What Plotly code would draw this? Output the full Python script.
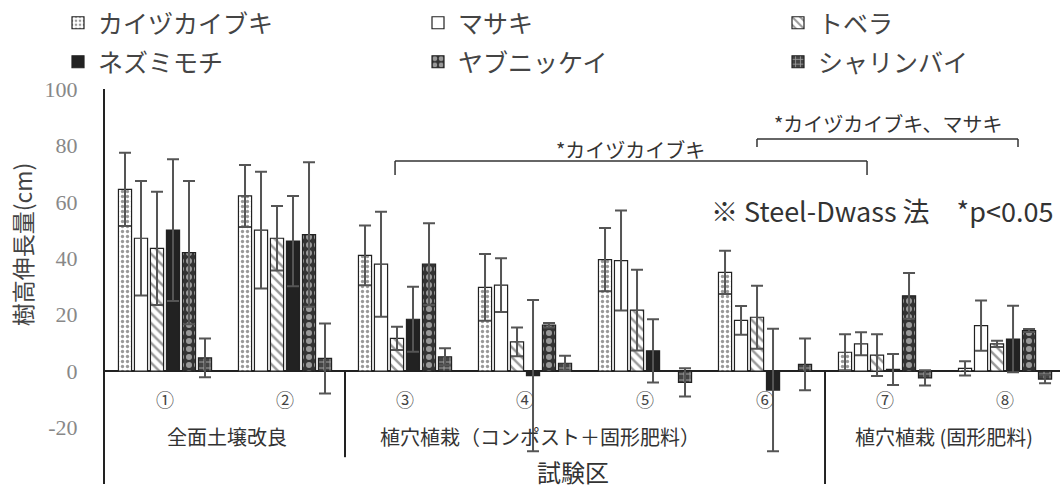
import plotly.graph_objects as go

# ---- data ----
categories = ["①", "②", "③", "④", "⑤", "⑥", "⑦", "⑧"]
series_names = ["カイヅカイブキ", "マサキ", "トベラ", "ネズミモチ", "ヤブニッケイ", "シャリンバイ"]

kaizuka = [64.4, 62.1, 41.0, 29.7, 39.5, 35.0, 6.7, 1.0]
kaizuka_err = [13.0, 11.0, 10.6, 11.8, 11.2, 7.7, 6.4, 2.5]
masaki = [47.1, 50.0, 37.9, 30.5, 39.2, 18.0, 9.7, 16.1]
masaki_err = [20.3, 20.7, 18.6, 9.5, 17.7, 5.1, 4.1, 8.9]
tobera = [43.5, 47.1, 11.6, 10.4, 21.6, 19.1, 5.7, 9.7]
tobera_err = [20.1, 11.4, 4.1, 5.1, 14.3, 11.2, 7.4, 1.1]
nezumimochi = [50.0, 46.1, 18.4, -1.6, 7.2, -6.7, 0.6, 11.4]
nezumimochi_err = [25.1, 16.0, 11.5, 26.8, 11.2, 21.7, 5.5, 11.8]
yabunikkei = [42.0, 48.4, 37.9, 16.3, None, None, 26.7, 14.4]
yabunikkei_err = [25.4, 25.6, 14.5, 0.8, 0, 0, 8.1, 0.5]
sharinbai = [4.7, 4.5, 5.1, 2.8, -4.0, 2.4, -2.4, -2.8]
sharinbai_err = [6.9, 12.4, 3.0, 2.7, 5.0, 9.2, 2.7, 1.5]

y_ticks = [-40, -20, 0, 20, 40, 60, 80, 100]
y_tick_labels = ["-40", "-20", "0", "20", "40", "60", "80", "100"]
group_labels = ["全面土壌改良", "植穴植栽（コンポスト＋固形肥料）", "植穴植栽 (固形肥料)"]

JP = "Noto Sans CJK JP"

values = [kaizuka, masaki, tobera, nezumimochi, yabunikkei, sharinbai]
errors = [kaizuka_err, masaki_err, tobera_err, nezumimochi_err, yabunikkei_err, sharinbai_err]
styles = [
    dict(color="white", pattern=dict(shape=".", fgcolor="#333", size=5, solidity=0.35, fillmode="overlay")),
    dict(color="white"),
    dict(color="white", pattern=dict(shape="\\", fgcolor="#333", size=7, solidity=0.35, fillmode="overlay")),
    dict(color="#222"),
    dict(color="#333", pattern=dict(shape=".", fgcolor="white", size=8, solidity=0.45, fillmode="overlay")),
    dict(color="#444", pattern=dict(shape="+", fgcolor="white", size=6, solidity=0.3, fillmode="overlay")),
]
legend_ids = ["legend", "legend", "legend", "legend2", "legend2", "legend2"]
legend_widths = [315, 315, 200, 315, 315, 200]

fig = go.Figure()
for name, vals, errs, st, lid, lw in zip(series_names, values, errors, styles, legend_ids, legend_widths):
    marker = dict(color=st["color"], line=dict(color="#222", width=1.2))
    if "pattern" in st:
        marker["pattern"] = st["pattern"]
    fig.add_trace(go.Bar(
        x=categories, y=vals, name=name, marker=marker,
        error_y=dict(type="data", array=errs, visible=True, color="#555", thickness=2, width=6),
        legend=lid, legendwidth=lw,
    ))

PT, PB = 89, 484
PH = PB - PT

def leg_y(py):
    return 1 + (PT - py) / PH

legend_common = dict(
    orientation="h", xanchor="left", yanchor="middle",
    x=(58 - 105) / 955,
    font=dict(family=JP, size=25, color="#444"),
    bgcolor="rgba(0,0,0,0)", itemwidth=30,
)
fig.update_layout(
    width=1060, height=490,
    margin=dict(l=105, r=0, t=PT, b=490 - PB, autoexpand=False),
    paper_bgcolor="white", plot_bgcolor="white",
    barmode="group", bargap=0.2, bargroupgap=0.18,
    showlegend=True,
    legend=dict(legend_common, y=leg_y(23)),
    legend2=dict(legend_common, y=leg_y(62)),
    xaxis=dict(range=[-0.5, 7.458], showticklabels=False, showgrid=False,
               zeroline=False, showline=False, ticks=""),
    yaxis=dict(range=[-40, 100], tickvals=y_ticks, ticktext=y_tick_labels, showgrid=False,
               showline=True, linecolor="#222", linewidth=2,
               zeroline=True, zerolinecolor="#222", zerolinewidth=2,
               ticks="outside", ticklen=21, tickcolor="rgba(0,0,0,0)",
               tickfont=dict(family="Liberation Serif", size=22, color="#888"),
               automargin=False),
)

shapes = []
# separators between treatment groups
shapes.append(dict(type="line", xref="x", yref="y", x0=1.5, x1=1.5, y0=0, y1=-30.5,
                   line=dict(color="#222", width=2)))
shapes.append(dict(type="line", xref="x", yref="y", x0=5.5, x1=5.5, y0=0, y1=-40,
                   line=dict(color="#222", width=2)))
# significance brackets
def bracket(xa, xb, yh, ye):
    ln = dict(color="#333", width=1.5)
    return [
        dict(type="line", xref="x", yref="y", x0=xa, x1=xb, y0=yh, y1=yh, line=ln),
        dict(type="line", xref="x", yref="y", x0=xa, x1=xa, y0=yh, y1=ye, line=ln),
        dict(type="line", xref="x", yref="y", x0=xb, x1=xb, y0=yh, y1=ye, line=ln),
    ]
shapes += bracket(1.917, 5.85, 74.5, 69.5)
shapes += bracket(4.933, 7.108, 82.3, 79.4)
fig.update_layout(shapes=shapes)

ann = []
for c in categories:
    ann.append(dict(x=c, y=-9.8, xref="x", yref="y", text=c, showarrow=False,
                    font=dict(family=JP, size=18, color="#444")))
for gx, gl in zip([0.517, 3.125, 6.49], group_labels):
    ann.append(dict(x=gx, y=-23.2, xref="x", yref="y", text=gl, showarrow=False,
                    font=dict(family=JP, size=20, color="#333")))
ann.append(dict(x=3.4, y=-35.6, xref="x", yref="y", text="試験区", showarrow=False,
                font=dict(family=JP, size=24, color="#333")))
ann.append(dict(x=3.88, y=78.4, xref="x", yref="y", text="*カイヅカイブキ", showarrow=False,
                font=dict(family=JP, size=20, color="#333")))
ann.append(dict(x=6.025, y=87.9, xref="x", yref="y", text="*カイヅカイブキ、マサキ", showarrow=False,
                font=dict(family=JP, size=20, color="#333")))
ann.append(dict(x=(1055 - 105) / 955, y=57.1, xref="paper", yref="y", xanchor="right",
                text="※ Steel-Dwass 法\u3000*p<0.05", showarrow=False,
                font=dict(family=JP, size=27, color="#333")))
ann.append(dict(x=(22 - 105) / 955, y=45, xref="paper", yref="y", text="樹高伸長量(cm)",
                textangle=-90, showarrow=False, xanchor="center", yanchor="middle",
                font=dict(family=JP, size=23, color="#444")))
fig.update_layout(annotations=ann)

fig.write_html("out.html", config={"displayModeBar": False},
               post_script="document.body.style.margin='0';")
